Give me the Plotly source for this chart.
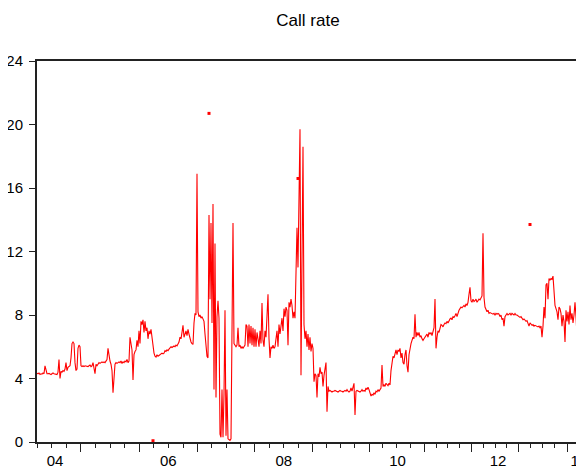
import plotly.graph_objects as go

# ---- data: call rate, one sample per ~5 trading days (observation-index axis) ----
rate_2004_05 = [
    4.33, 4.30, 4.35, 4.25, 4.30, 4.28, 4.35, 4.30, 4.80, 4.40,
    4.30, 4.30, 4.32, 4.28, 4.25, 4.30, 4.35, 4.30, 4.28, 4.30,
    4.25, 4.40, 5.20, 4.00, 4.45, 4.40, 4.50, 4.45, 4.60, 5.00,
    4.50, 4.70, 4.75, 4.80, 5.30, 6.20, 6.30, 6.20, 5.00, 4.50,
    4.60, 5.90, 6.10, 6.00, 4.80, 4.75, 4.80, 4.75, 4.80, 4.78,
    4.80, 4.75, 4.80, 4.85, 4.75, 4.80, 5.00, 4.60, 4.30, 4.90,
    4.80, 4.90, 5.00, 4.95, 5.00, 5.05, 5.00, 5.05, 5.00, 5.10,
    5.20, 5.90, 5.40, 5.10, 4.90, 4.50, 3.10, 4.40, 4.90, 5.00,
    4.95, 5.00, 5.05, 5.00, 5.10, 4.95, 5.05, 5.00, 5.10, 5.05,
    5.20, 5.00, 5.10,
]
rate_2006_07 = [
    6.60, 6.00, 5.80, 3.90, 5.50, 5.70, 5.80, 6.40, 6.00, 7.00,
    6.20, 7.60, 7.40, 7.70, 6.90, 7.60, 7.00, 7.20, 6.50, 7.00,
    6.80, 7.10, 6.60, 6.00, 5.60, 5.40, 5.35, 5.50, 5.40, 5.45,
    5.50, 5.50, 5.60, 5.55, 5.60, 5.75, 5.70, 5.80, 5.75, 5.85,
    5.90, 6.00, 5.95, 6.00, 6.05, 6.00, 6.10, 6.05, 6.15, 6.30,
    6.60, 6.50, 6.90, 7.35, 6.60, 6.90, 7.00, 6.70, 7.10, 6.80,
    6.50, 6.30, 6.20, 6.15, 7.50, 8.10, 8.00, 16.90, 8.20, 7.90,
    8.00, 7.80, 7.90, 7.70, 7.60, 6.80, 5.90, 5.40, 5.30, 14.30,
    9.00, 13.80, 7.50, 15.00, 3.30, 12.50, 2.80, 7.90, 8.90, 7.80,
    0.50, 0.30,
]
rate_2007_08 = [
    3.30, 0.30, 3.00, 8.30, 0.40, 3.30, 0.20, 0.15, 0.10, 0.20,
    6.10, 13.80, 6.20, 6.10, 6.00, 6.10, 7.20, 6.00, 6.10, 5.90,
    6.00, 5.90, 6.00, 6.10, 7.40, 7.30, 6.00, 7.40, 6.20, 7.30,
    6.10, 7.20, 6.00, 7.10, 6.00, 6.90, 6.50, 6.00, 7.00, 6.20,
    8.75, 6.40, 6.00, 7.00, 6.60, 8.00, 9.30, 6.50, 5.30, 6.00,
    5.90, 6.10, 5.90, 6.00, 6.50, 7.00, 6.00, 7.40, 6.80, 7.60,
    7.80, 7.00, 8.40, 7.90, 8.50, 8.30, 6.10, 8.80, 8.50, 9.00,
    8.60, 7.80, 8.20, 7.80, 10.20, 13.50, 11.00, 15.50, 19.70, 4.20,
    11.20, 18.60, 7.40, 6.50, 7.00, 6.00, 6.80, 5.80, 6.60, 5.70,
    6.20, 5.90,
]
rate_2009_10 = [
    3.80, 4.30, 4.20, 2.80, 4.30, 4.10, 4.70, 4.30, 4.40, 3.50,
    4.20, 4.50, 5.00, 1.90, 3.50, 3.20, 3.25, 3.20, 3.15, 3.20,
    3.20, 3.25, 3.20, 3.20, 3.15, 3.20, 3.25, 3.20, 3.20, 3.15,
    3.20, 3.25, 3.20, 3.30, 3.20, 3.15, 3.20, 3.40, 3.20, 3.50,
    3.70, 1.70, 3.20, 3.25, 3.20, 3.20, 3.15, 3.20, 3.30, 3.20,
    3.25, 3.20, 3.40, 3.30, 3.45, 3.30, 3.00, 2.90, 3.00, 2.95,
    3.10, 3.00, 3.20, 3.15, 3.30, 3.20, 3.30, 3.40, 4.85, 3.50,
    3.60, 3.50, 3.70, 3.60, 3.55, 3.70, 3.60, 4.50, 5.20, 5.40,
    5.30, 5.60, 5.80, 5.50, 5.80, 5.70, 5.90, 5.30, 5.60, 5.00,
    4.90, 5.50,
]
rate_2010_12 = [
    5.80, 4.80, 4.40, 5.50, 6.00, 6.20, 6.40, 6.60, 6.50, 8.05,
    6.60, 6.90, 6.70, 6.90, 6.60, 6.70, 6.50, 6.40, 6.50, 6.60,
    6.70, 6.80, 6.60, 6.90, 6.80, 6.90, 6.70, 7.00, 7.20, 9.00,
    5.90, 6.60, 7.00, 6.90, 7.30, 7.40, 7.35, 7.25, 7.40, 7.50,
    7.45, 7.60, 7.50, 7.70, 7.75, 7.80, 7.70, 7.90, 7.85, 7.95,
    8.10, 7.90, 8.20, 8.30, 8.40, 8.50, 8.45, 8.55, 8.60, 8.50,
    8.70, 8.60, 8.80, 9.30, 9.75, 8.90, 8.80, 9.00, 8.85, 8.90,
    9.00, 8.80, 8.90, 9.00, 8.95, 9.10, 9.20, 13.15, 9.10, 8.50,
    8.30, 8.20, 8.30, 8.10, 8.15, 8.10, 8.10, 8.05, 8.10, 8.00,
    8.10, 8.05,
]
rate_2012_14 = [
    8.10, 8.05, 7.90, 8.00, 7.70, 7.80, 7.30, 7.90, 8.00, 8.10,
    8.00, 8.05, 8.10, 8.00, 8.10, 8.05, 8.00, 8.10, 8.00, 8.00,
    7.95, 7.90, 7.85, 7.90, 7.80, 7.70, 7.75, 7.70, 7.60, 7.65,
    7.50, 7.30, 7.50, 7.40, 7.35, 7.40, 7.30, 7.35, 7.30, 7.30,
    7.25, 7.30, 7.20, 7.30, 6.60, 7.30, 8.50, 7.80, 9.90, 10.00,
    9.00, 10.30, 10.20, 10.30, 10.25, 10.45, 9.00, 8.60, 8.40, 8.20,
    7.70, 8.50, 8.40, 8.10, 7.30, 8.00, 7.60, 6.30, 8.30, 7.60,
    8.20, 7.40, 8.60, 7.70, 8.10, 7.50, 8.00, 8.80, 7.90, 6.70,
    8.80, 8.00,
]
# isolated observations (surrounded by missing values)
isolated_obs = [116, 172, 261, 493]
isolated_val = [0.08, 20.7, 16.6, 13.7]

# axis: start of each calendar year (in sample units) and labels
year_start = [-14, 43.8, 102.3, 160.7, 217.7, 275.7, 332, 387.3, 434.3, 481.7, 530, 578]
label_text = ["04", "06", "08", "10", "12", "14"]
label_pos = [18, 131.3, 246.8, 360.5, 461, 541.9]
y_ticks = [0, 4, 8, 12, 16, 20, 24]

rate = rate_2004_05 + rate_2006_07 + rate_2007_08 + rate_2009_10 + rate_2010_12 + rate_2012_14
x = list(range(len(rate)))
x_max = len(rate) - 1

quarter_ticks = []
for i in range(len(year_start) - 1):
    s, e = year_start[i], year_start[i + 1]
    for k in (1, 2, 3):
        quarter_ticks.append(s + k * (e - s) / 4)

FONT = "Liberation Sans, Arial, sans-serif"
AX = "#222222"
PAGE_OFFSET = 8  # default page margin of the html body
W, H = 584 - PAGE_OFFSET, 470 - PAGE_OFFSET

fig = go.Figure()
fig.add_trace(go.Scatter(x=x, y=rate, mode="lines",
                         line=dict(color="#ff0000", width=1.1), showlegend=False,
                         hoverinfo="skip"))
fig.add_trace(go.Scatter(x=isolated_obs, y=isolated_val, mode="markers", xaxis="x2",
                         marker=dict(color="#ff0000", size=3, symbol="square"),
                         showlegend=False, hoverinfo="skip"))

fig.update_layout(
    width=W, height=H,
    margin=dict(l=37 - PAGE_OFFSET, r=5, t=61 - PAGE_OFFSET, b=28, autoexpand=False),
    paper_bgcolor="white", plot_bgcolor="white",
    font=dict(family=FONT, size=15, color="black"),
    title=dict(text="Call rate", x=0.5, xref="paper", y=1 - (20 - PAGE_OFFSET) / H, yref="container",
               xanchor="center", yanchor="middle", font=dict(size=17, family=FONT, color="black")),
    xaxis=dict(range=[0, x_max], showgrid=False, zeroline=False,
               showline=True, linecolor=AX, linewidth=2, mirror=True,
               tickmode="array", tickvals=[v for v in year_start if 0 <= v <= x_max],
               ticks="outside", ticklen=8, tickwidth=1, tickcolor=AX,
               showticklabels=False,
               minor=dict(tickmode="array", tickvals=[v for v in quarter_ticks if 0 <= v <= x_max],
                          ticks="outside", ticklen=4, tickwidth=1, tickcolor=AX, showgrid=False)),
    xaxis2=dict(overlaying="x", matches="x", anchor="y", side="bottom",
                range=[0, x_max], showgrid=False, zeroline=False, showline=False,
                tickmode="array", tickvals=label_pos, ticktext=label_text,
                ticks="", ticklabelstandoff=8, ticklabeloverflow="allow",
                tickfont=dict(size=15, family=FONT, color="black")),
    yaxis=dict(range=[0, 24], showgrid=False, zeroline=False,
               showline=True, linecolor=AX, linewidth=2, mirror=True,
               tickmode="array", tickvals=y_ticks,
               ticks="outside", ticklen=6, tickwidth=1, tickcolor=AX,
               ticklabelstandoff=3,
               tickfont=dict(size=15, family=FONT, color="black")),
)

fig.write_html("out.html")
